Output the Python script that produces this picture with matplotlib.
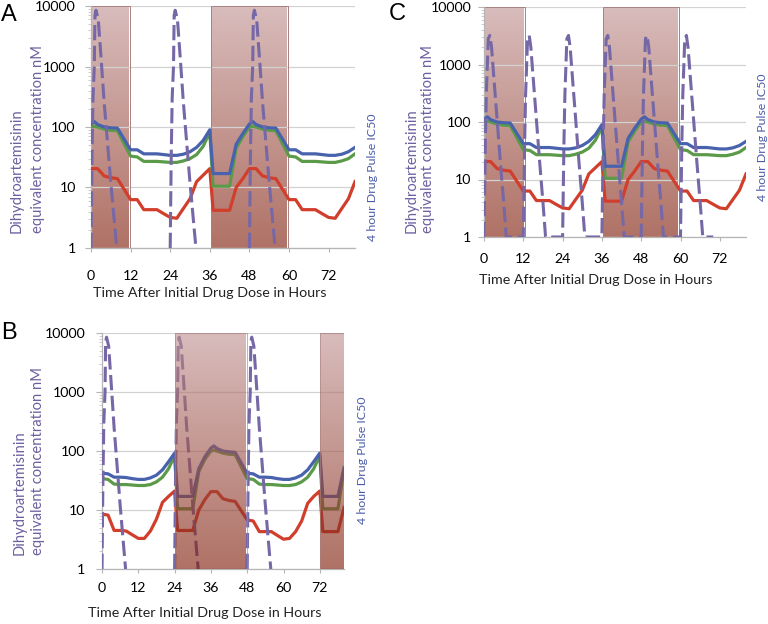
import numpy as np
import matplotlib
matplotlib.use("Agg")
import matplotlib.pyplot as plt
import matplotlib.colors as mcolors
from matplotlib.patches import Rectangle
from matplotlib.ticker import FixedLocator, LogLocator, NullFormatter

plt.rcParams['font.family'] = ['Lato', 'DejaVu Sans']

W, H = 768, 624

# ---------------- data ----------------
# Panels A and C share the same concentration curves
hours_A = [0, 1, 2, 4, 6, 8, 12, 14, 16, 18, 20, 22, 24, 26, 28, 30, 32, 34, 36, 37,
           42, 44, 46, 48, 49, 50, 52, 54, 56, 60, 62, 64, 66, 68, 70, 72, 74, 76, 78, 80]
blue_A = [112, 123, 110, 100, 97, 96, 42, 42, 36, 36, 36, 35, 34, 34, 35.5, 39, 46, 60, 90, 17,
          17, 52, 78, 112, 123, 110, 100, 97, 96, 42, 42, 36, 36, 36, 35, 34, 34, 35.5, 39, 46]
green_A = [100, 103, 100, 92, 88, 87, 33, 32, 27, 27, 27, 26.5, 26, 26, 27.5, 30, 35, 48, 82, 10.5,
           10.5, 45, 69, 100, 103, 100, 92, 88, 87, 33, 32, 27, 27, 27, 26.5, 26, 26, 27.5, 30, 36]
red_A = [20.5, 20.5, 20.5, 15.5, 14.5, 14, 6.3, 6.3, 4.3, 4.3, 4.3, 3.7, 3.2, 3.1, 4.5, 6.5, 12.5, 16, 20.5, 4.2,
         4.2, 10, 14, 20.5, 20.5, 20.5, 15.5, 14.5, 14, 6.3, 6.3, 4.3, 4.3, 4.3, 3.7, 3.2, 3.1, 4.5, 6.5, 12.5]

hours_B = [0, 2, 4, 6, 8, 10, 12, 14, 16, 18, 20, 22, 24, 25, 30, 32, 34, 36, 37, 38, 40, 42, 44,
           48, 50, 52, 54, 56, 58, 60, 62, 64, 66, 68, 70, 72, 73, 78, 80]
blue_B = [42, 41, 36, 36, 35.5, 34, 33, 33, 35, 39, 48, 66, 92, 17, 17, 50, 80, 112, 122, 110, 100, 97, 95,
          42, 41, 36, 36, 35.5, 34, 33, 33, 35, 39, 48, 66, 92, 17, 17, 52]
green_B = [34, 33, 27.5, 27, 27, 26.5, 26, 26, 27, 30, 36, 50, 84, 10.5, 10.5, 45, 72, 100, 103, 100, 92, 88, 87,
           34, 33, 27.5, 27, 27, 26.5, 26, 26, 27, 30, 36, 50, 84, 10.5, 10.5, 48]
red_B = [8.5, 8.2, 4.5, 4.5, 4.4, 3.8, 3.3, 3.3, 4.4, 7, 13.5, 17, 21, 4.5, 4.5, 10, 15, 20.5, 20.5, 20.5, 15.5, 14.5, 14,
         6.8, 6.5, 4.3, 4.3, 4.3, 3.7, 3.2, 3.3, 4.3, 6.5, 13, 17, 21, 4.3, 4.3, 11]

# dose times and drug concentration profile after one dose (dashed curves)
doses_A = [0, 24, 48]
doses_B = [0, 24, 48]
doses_C = [0, 12, 24, 36, 48, 60]
pk_t = [0, 0.3, 0.6, 1.0, 1.2, 1.5, 2.2, 3, 4, 5, 6, 7, 7.8]
pk_c = [1, 30, 300, 1000, 7000, 8500, 6000, 1500, 250, 55, 12, 3, 1]
pkC_t = [0, 0.4, 0.7, 1.0, 1.3, 1.8, 2.3, 3, 4, 5, 6, 6.8]
pkC_c = [1, 40, 300, 900, 2800, 3200, 2000, 600, 110, 20, 4, 1]
C_tail_end = 70

# shaded periods (hours)
shade_A = [(0, 11.8), (36.5, 59.6)]
shade_B = [(24.1, 47.9), (72, 80)]
shade_C = [(0, 12.5), (36.4, 59.5)]

xticks = [0, 12, 24, 36, 48, 60, 72]
yticks = [1, 10, 100, 1000, 10000]
ytick_labels = ['1', '10', '100', '1000', '10000']

# ---------------- styles ----------------
C_DASH = '#7667a6'
C_BLUE = '#4862ad'
C_GREEN = '#5b9a48'
C_RED = '#d23e2c'
C_LEFT = '#6e609f'
C_RIGHT = '#4c5ca9'
SH_TOP = np.array(mcolors.to_rgb('#d8bcbc'))
SH_BOT = np.array(mcolors.to_rgb('#b07266'))

fig = plt.figure(figsize=(W / 100, H / 100), dpi=100)


def pxax(l, t, r, b):
    return fig.add_axes([l / W, 1 - b / H, (r - l) / W, (b - t) / H])


def ftext(x, y, s, **kw):
    fig.text(x / W, 1 - y / H, s, **kw)


def shade(ax, x0, x1, alpha=1.0, z=0.5):
    n = 256
    f = np.linspace(0, 1, n)[:, None, None]
    if alpha < 1:
        top = np.clip((SH_TOP - (1 - alpha)) / alpha, 0, 1)
        bot = np.clip((SH_BOT - (1 - alpha)) / alpha, 0, 1)
    else:
        top, bot = SH_TOP, SH_BOT
    img = top[None, None, :] * (1 - f) + bot[None, None, :] * f
    tr = ax.get_xaxis_transform()
    ax.imshow(img, extent=[x0, x1, 0, 1], transform=tr, aspect='auto',
              origin='upper', zorder=z, alpha=alpha, interpolation='bilinear')
    ax.add_patch(Rectangle((x0, 0), x1 - x0, 1, transform=tr, fill=False,
                           ec='#a98080', lw=0.7, zorder=z + 0.01, alpha=alpha))


def setup(ax, xpad, ypad):
    ax.set_autoscale_on(False)
    ax.set_yscale('log')
    ax.set_xlim(0, 80)
    ax.set_ylim(1, 10000)
    for s in ['top', 'right']:
        ax.spines[s].set_visible(False)
    for s in ['left', 'bottom']:
        ax.spines[s].set_color('#b5b5b5')
        ax.spines[s].set_linewidth(0.9)
    ax.yaxis.set_major_locator(FixedLocator(yticks))
    ax.set_yticklabels(ytick_labels)
    ax.yaxis.set_minor_locator(LogLocator(base=10, subs=np.arange(2, 10)))
    ax.yaxis.set_minor_formatter(NullFormatter())
    ax.set_xticks(xticks)
    ax.tick_params(axis='y', which='major', length=4, color='#b5b5b5', labelsize=10.2, pad=ypad)
    ax.tick_params(axis='y', which='minor', length=2.5, color='#c5c5c5')
    ax.tick_params(axis='x', length=3, color='#b5b5b5', labelsize=10.2, pad=xpad)
    ax.grid(axis='y', which='major', color='#d2d2d2', lw=0.9, zorder=0.2)
    ax.set_axisbelow(True)
    ax.patch.set_alpha(0)


def lines(ax, hrs, b, g, r, z=3):
    ax.plot(hrs, r, color=C_RED, lw=2.3, zorder=z, solid_joinstyle='round')
    ax.plot(hrs, g, color=C_GREEN, lw=2.3, zorder=z + 0.1, solid_joinstyle='round')
    ax.plot(hrs, b, color=C_BLUE, lw=2.3, zorder=z + 0.2, solid_joinstyle='round')


def dashed(ax, doses, t, c, z=4):
    for d in doses:
        ax.plot(np.array(t) + d, c, color=C_DASH, lw=2.2, ls=(0, (5, 1.8)), zorder=z)


# ---------------- Panel A ----------------
axA = pxax(91, 6, 355, 248)
setup(axA, xpad=13, ypad=7)
for x0, x1 in shade_A:
    shade(axA, x0, x1)
lines(axA, hours_A, blue_A, green_A, red_A)
dashed(axA, doses_A, pk_t, pk_c)

# ---------------- Panel B ----------------
axB = pxax(102, 333, 344, 569)
setup(axB, xpad=6.5, ypad=8)
lines(axB, hours_B, blue_B, green_B, red_B)
dashed(axB, doses_B, pk_t, pk_c)
for x0, x1 in shade_B:
    shade(axB, x0, x1, alpha=0.62, z=5)

# ---------------- Panel C ----------------
axC = pxax(484, 7, 746, 237)
setup(axC, xpad=8.5, ypad=5)
for x0, x1 in shade_C:
    shade(axC, x0, x1)
lines(axC, hours_A, blue_A, green_A, red_A)
tC, cC = [], []
for i, d in enumerate(doses_C):
    tC += [d + v for v in pkC_t]
    cC += list(pkC_c)
    nxt = doses_C[i + 1] if i + 1 < len(doses_C) else C_tail_end
    tC.append(nxt)
    cC.append(1)
axC.plot(tC, cC, color=C_DASH, lw=2.2, ls=(0, (5, 1.8)), zorder=4)

# ---------------- texts ----------------
lab_kw = dict(fontsize=10.6, color=C_LEFT, rotation=90, ha='center', va='bottom')
for (x1, x2, yb) in [(17, 38, 233), (20, 38, 555), (412, 428, 233)]:
    ftext(x1, yb, 'Dihydroartemisinin', **lab_kw)
    ftext(x2, yb, 'equivalent concentration nM', **lab_kw)

r_kw = dict(fontsize=8.9, color=C_RIGHT, rotation=90, ha='center', va='center')
ftext(372, 177, '4 hour Drug Pulse IC50', **r_kw)
ftext(362, 460, '4 hour Drug Pulse IC50', **r_kw)
ftext(762, 137, '4 hour Drug Pulse IC50', **r_kw)

x_kw = dict(fontsize=10.3, color='#222222', ha='center', va='center')
ftext(210, 293, 'Time After Initial Drug Dose in Hours', **x_kw)
ftext(205, 613, 'Time After Initial Drug Dose in Hours', **x_kw)
ftext(596, 280, 'Time After Initial Drug Dose in Hours', **x_kw)

p_kw = dict(fontsize=17, color='black', ha='left', va='top', family=['Liberation Sans', 'DejaVu Sans'])
ftext(1, 4, 'A', **p_kw)
ftext(1, 322, 'B', **p_kw)
ftext(389, 3, 'C', **p_kw)

fig.savefig('out.png', dpi=100)
